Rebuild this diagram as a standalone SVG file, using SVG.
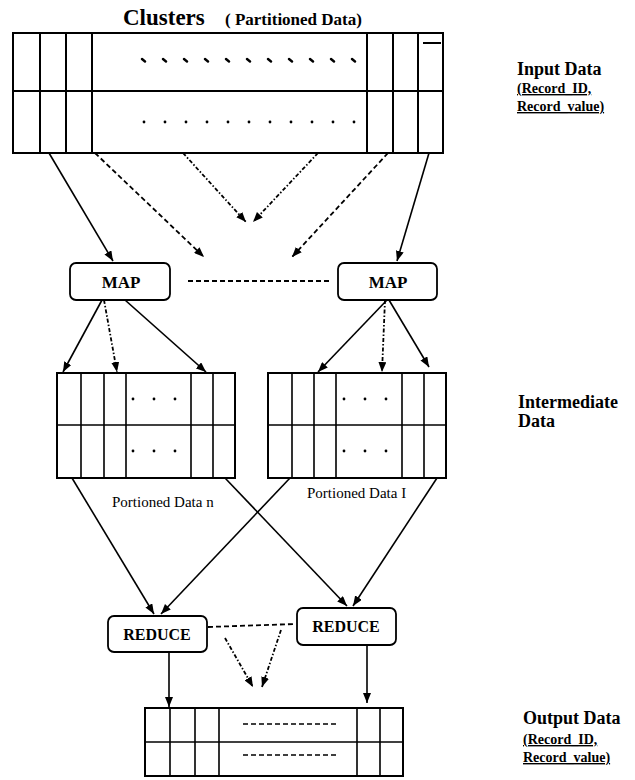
<svg xmlns="http://www.w3.org/2000/svg" width="635" height="780" viewBox="0 0 635 780">
<style>
.tbl{fill:none;stroke:#000;stroke-width:2}
.tln{stroke:#000;stroke-width:2;fill:none}
.tln2{stroke:#000;stroke-width:1.6;fill:none}
.box{fill:#fff;stroke:#000;stroke-width:1.8}
.sol{stroke:#000;stroke-width:1.6;fill:none}
.dsh{stroke:#000;stroke-width:1.8;fill:none;stroke-dasharray:5 3}
.dd{stroke:#000;stroke-width:1.8;fill:none;stroke-dasharray:4 2 1.5 2}
.hd{font-family:"Liberation Serif",serif;font-weight:bold;fill:#000}
.lb{font-family:"Liberation Serif",serif;fill:#000;font-size:15px}
</style>
<defs>
<marker id="ah" markerWidth="10" markerHeight="8" refX="10" refY="4" orient="auto" markerUnits="userSpaceOnUse">
<path d="M0,0 L10,4 L0,8 z" fill="#000"/>
</marker>
</defs>
<rect width="635" height="780" fill="#fff"/>

<text class="hd" x="123" y="25" font-size="23">Clusters</text>
<text class="hd" x="225" y="25" font-size="17">( Partitioned Data)</text>

<g id="input-table">
<rect class="tbl" x="13" y="33" width="430" height="120"/>
<line class="tln" x1="13" y1="91" x2="443" y2="91"/>
<path class="tln" d="M40,33V153M66,33V153M92,33V153M367,33V153M393,33V153M418,33V153"/>
<line class="tln" x1="423" y1="43" x2="441" y2="43"/>
<path stroke="#000" stroke-width="2.4" stroke-linecap="round" d="M142,59l3,2.5M163,59l3,2.5M184,59l3,2.5M205,59l3,2.5M226,59l3,2.5M247,59l3,2.5M268,59l3,2.5M289,59l3,2.5M310,59l3,2.5M331,59l3,2.5M352,59l3,2.5"/>
<g fill="#000">
<circle cx="144" cy="122" r="1.4"/><circle cx="165" cy="122" r="1.4"/><circle cx="186" cy="122" r="1.4"/><circle cx="207" cy="122" r="1.4"/><circle cx="228" cy="122" r="1.4"/><circle cx="249" cy="122" r="1.4"/><circle cx="270" cy="122" r="1.4"/><circle cx="291" cy="122" r="1.4"/><circle cx="312" cy="122" r="1.4"/><circle cx="333" cy="122" r="1.4"/><circle cx="354" cy="122" r="1.4"/>
</g>
</g>

<g id="input-label">
<text class="hd" x="517" y="75" font-size="18">Input Data</text>
<text class="hd" x="517" y="93" font-size="14" text-decoration="underline">(Record_ID,</text>
<text class="hd" x="517" y="111" font-size="14" text-decoration="underline">Record_value)</text>
</g>

<g id="map-left">
<rect class="box" x="70" y="263" width="100" height="37" rx="6"/>
<text class="hd" x="121" y="288" font-size="17" text-anchor="middle">MAP</text>
</g>
<g id="map-right">
<rect class="box" x="338" y="263" width="99" height="37" rx="6"/>
<text class="hd" x="388" y="288" font-size="17" text-anchor="middle">MAP</text>
</g>

<g id="inter-left">
<rect class="tbl" x="57" y="373" width="178" height="105" stroke-width="1.6"/>
<line class="tln2" x1="57" y1="425" x2="235" y2="425"/>
<path class="tln2" d="M81,373V478M104,373V478M126,373V478M191,373V478M213,373V478"/>
<g fill="#000"><circle cx="133" cy="399" r="1.4"/><circle cx="154" cy="399" r="1.4"/><circle cx="175" cy="399" r="1.4"/><circle cx="133" cy="451" r="1.4"/><circle cx="154" cy="451" r="1.4"/><circle cx="175" cy="451" r="1.4"/></g>
<text class="lb" x="112" y="507">Portioned Data n</text>
</g>
<g id="inter-right">
<rect class="tbl" x="268" y="373" width="178" height="105" stroke-width="1.6"/>
<line class="tln2" x1="268" y1="425" x2="446" y2="425"/>
<path class="tln2" d="M292,373V478M314,373V478M336,373V478M402,373V478M424,373V478"/>
<g fill="#000"><circle cx="344" cy="399" r="1.4"/><circle cx="365" cy="399" r="1.4"/><circle cx="386" cy="399" r="1.4"/><circle cx="344" cy="451" r="1.4"/><circle cx="365" cy="451" r="1.4"/><circle cx="386" cy="451" r="1.4"/></g>
<text class="lb" x="307" y="498">Portioned Data I</text>
</g>

<g id="inter-label">
<text class="hd" x="518" y="408" font-size="18">Intermediate</text>
<text class="hd" x="518" y="427" font-size="18">Data</text>
</g>

<g id="reduce-left">
<rect class="box" x="108" y="616" width="99" height="36" rx="6"/>
<text class="hd" x="157" y="640" font-size="16" text-anchor="middle">REDUCE</text>
</g>
<g id="reduce-right">
<rect class="box" x="297" y="608" width="99" height="37" rx="6"/>
<text class="hd" x="346" y="632" font-size="16" text-anchor="middle">REDUCE</text>
</g>

<g id="output-table">
<rect class="tbl" x="145" y="708" width="258" height="68" stroke-width="1.8"/>
<line class="tln2" x1="145" y1="742" x2="403" y2="742"/>
<path class="tln2" d="M170,708V776M195,708V776M219,708V776M357,708V776M380,708V776"/>
<path stroke="#000" stroke-width="1.6" stroke-dasharray="5 3" d="M243,724H336M243,755H336"/>
</g>

<g id="output-label">
<text class="hd" x="523" y="724" font-size="18">Output Data</text>
<text class="hd" x="523" y="744" font-size="14" text-decoration="underline">(Record_ID,</text>
<text class="hd" x="523" y="762" font-size="14" text-decoration="underline">Record_value)</text>
</g>

<g id="connectors">
<line class="sol" x1="49" y1="153" x2="113" y2="261" marker-end="url(#ah)"/>
<line class="dsh" x1="95" y1="153" x2="204" y2="257" marker-end="url(#ah)"/>
<line class="dd" x1="183" y1="153" x2="246" y2="222" marker-end="url(#ah)"/>
<line class="dd" x1="318" y1="153" x2="253" y2="222" marker-end="url(#ah)"/>
<line class="dsh" x1="388" y1="153" x2="292" y2="257" marker-end="url(#ah)"/>
<line class="sol" x1="429" y1="153" x2="397" y2="261" marker-end="url(#ah)"/>
<line class="dsh" x1="188" y1="281" x2="331" y2="281"/>
<line class="sol" x1="102" y1="300" x2="63" y2="372" marker-end="url(#ah)"/>
<line class="dd" x1="104" y1="300" x2="117" y2="372" marker-end="url(#ah)"/>
<line class="sol" x1="125" y1="300" x2="206" y2="372" marker-end="url(#ah)"/>
<line class="sol" x1="387" y1="300" x2="318" y2="372" marker-end="url(#ah)"/>
<line class="dd" x1="385" y1="300" x2="382" y2="372" marker-end="url(#ah)"/>
<line class="sol" x1="389" y1="300" x2="429" y2="367" marker-end="url(#ah)"/>
<line class="sol" x1="72" y1="478" x2="154" y2="614" marker-end="url(#ah)"/>
<line class="sol" x1="290" y1="478" x2="161" y2="614" marker-end="url(#ah)"/>
<line class="sol" x1="225" y1="478" x2="347" y2="606" marker-end="url(#ah)"/>
<line class="sol" x1="437" y1="478" x2="353" y2="606" marker-end="url(#ah)"/>
<line class="dsh" x1="208" y1="627" x2="295" y2="624"/>
<line class="dd" x1="225" y1="638" x2="253" y2="687" marker-end="url(#ah)"/>
<line class="dd" x1="281" y1="630" x2="262" y2="687" marker-end="url(#ah)"/>
<line class="sol" x1="169" y1="652" x2="169" y2="707" marker-end="url(#ah)"/>
<line class="sol" x1="367" y1="645" x2="367" y2="703" marker-end="url(#ah)"/>
</g>
</svg>
